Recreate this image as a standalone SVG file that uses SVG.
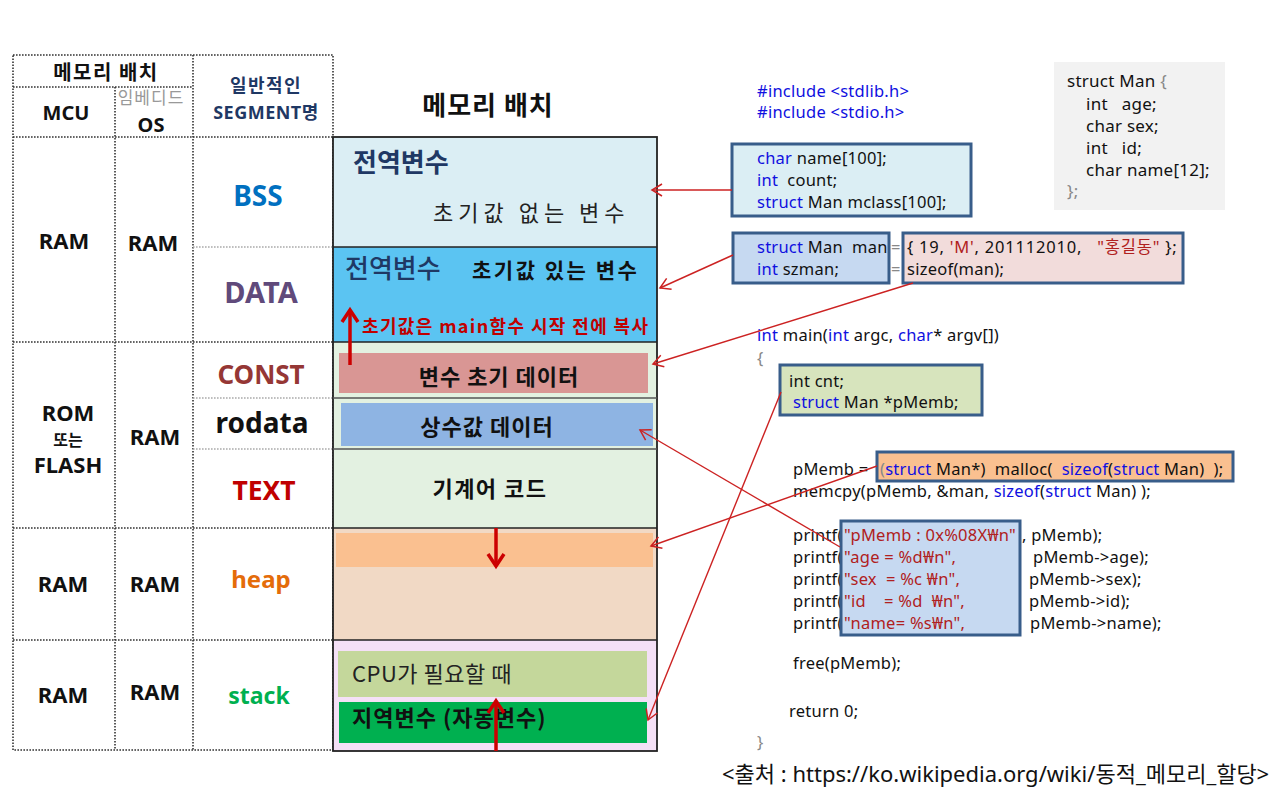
<svg xmlns="http://www.w3.org/2000/svg" width="1280" height="801" viewBox="0 0 1280 801">
<defs>
<style>
text{font-family:'Noto Sans','Noto Sans CJK KR',sans-serif;}
.kr{font-family:'Noto Sans CJK KR','Noto Sans',sans-serif;}
.hd{font-weight:bold;font-size:20px;fill:#111;text-anchor:middle;}
.cell{font-weight:bold;font-size:22px;fill:#111;text-anchor:middle;}
.seg{font-weight:bold;font-size:27px;text-anchor:middle;}
.dot{stroke:#333;stroke-width:1.6;stroke-dasharray:1.6 1.4;fill:none;}
.dotl{stroke:#aaa;stroke-width:1.4;stroke-dasharray:1.6 1.4;fill:none;}
.sep{stroke:#222;stroke-width:1.5;}
.sepg{stroke:#555;stroke-width:1.5;}
.code{font-size:16.5px;fill:#111;letter-spacing:0.25px;white-space:pre;}
.kw{fill:#1010e0;}
.st{fill:#b02020;}
.gy{fill:#888;}
.cbox{stroke:#385D8A;stroke-width:3;}
.conn{stroke:#cc2222;stroke-width:1.4;fill:none;marker-end:url(#ar);}
.big{stroke:#cc0000;stroke-width:3.5;fill:none;marker-end:url(#tk);}
.mt{font-family:'Noto Sans CJK KR','Noto Sans',sans-serif;font-weight:bold;fill:#111;}
</style>
<marker id="ar" markerUnits="userSpaceOnUse" markerWidth="14" markerHeight="14" refX="11" refY="7" orient="auto" viewBox="0 0 14 14">
<path d="M1,1 L11,7 L1,13" fill="none" stroke="#cc2222" stroke-width="1.5"/>
</marker>
<marker id="tk" markerUnits="userSpaceOnUse" markerWidth="20" markerHeight="20" refX="16" refY="10" orient="auto" viewBox="0 0 20 20">
<path d="M4,2 L16,10 L4,18" fill="none" stroke="#cc0000" stroke-width="3.5"/>
</marker>
</defs>
<rect width="1280" height="801" fill="#ffffff"/>

<!-- left table -->
<g id="table">
<rect x="13" y="55" width="320" height="695" class="dot"/>
<line x1="13" y1="87" x2="193" y2="87" class="dot"/>
<line x1="13" y1="137" x2="333" y2="137" class="dot"/>
<line x1="13" y1="342" x2="333" y2="342" class="dot"/>
<line x1="13" y1="528" x2="333" y2="528" class="dot"/>
<line x1="13" y1="640" x2="333" y2="640" class="dot"/>
<line x1="115" y1="87" x2="115" y2="750" class="dot"/>
<line x1="193" y1="55" x2="193" y2="750" class="dot"/>
<line x1="193" y1="247" x2="333" y2="247" class="dotl"/>
<line x1="193" y1="398" x2="333" y2="398" class="dotl"/>
<line x1="193" y1="449" x2="333" y2="449" class="dotl"/>
<text x="106" y="80" class="hd kr" style="letter-spacing:1.5px">메모리 배치</text>
<text x="66" y="120" class="hd" style="font-size:20px">MCU</text>
<text x="151" y="104" class="kr" style="font-size:17px;fill:#999;text-anchor:middle;letter-spacing:1px">임베디드</text>
<text x="151" y="132" class="hd" style="font-size:20px">OS</text>
<text x="266" y="92" class="hd kr" style="fill:#1F3864;font-size:18px;letter-spacing:1.5px">일반적인</text>
<text x="266" y="119" class="hd" style="fill:#1F3864;font-size:18px;letter-spacing:0.5px">SEGMENT명</text>
<text x="64" y="249" class="cell">RAM</text>
<text x="153" y="251" class="cell">RAM</text>
<text x="68" y="421" class="cell">ROM</text>
<text x="68" y="446" class="cell kr" style="font-size:16px">또는</text>
<text x="68" y="473" class="cell">FLASH</text>
<text x="155" y="445" class="cell">RAM</text>
<text x="63" y="592" class="cell">RAM</text>
<text x="155" y="592" class="cell">RAM</text>
<text x="63" y="703" class="cell">RAM</text>
<text x="155" y="700" class="cell">RAM</text>
<text x="258" y="206" class="seg" style="fill:#0070C0;font-size:28px">BSS</text>
<text x="261" y="303" class="seg" style="fill:#604A7B;font-size:29px">DATA</text>
<text x="261" y="384" class="seg" style="fill:#953735;font-size:26px">CONST</text>
<text x="262" y="433" class="seg" style="fill:#111;font-size:28px">rodata</text>
<text x="264" y="500" class="seg" style="fill:#C00000;font-size:26.5px">TEXT</text>
<text x="261" y="588" class="seg" style="fill:#E46C0A;font-size:24px">heap</text>
<text x="259" y="704" class="seg" style="fill:#00B050;font-size:23px">stack</text>
</g>

<!-- memory layout -->
<text x="488" y="115" class="mt" style="font-size:26px;text-anchor:middle;letter-spacing:1px">메모리 배치</text>
<g id="mem-bss">
<rect x="333" y="137" width="324" height="110" fill="#DBEEF4"/>
<text x="353" y="172" class="kr" style="font-size:26px;font-weight:bold;fill:#1F3864">전역변수</text>
<text x="433" y="221" class="kr" style="font-size:22px;fill:#222;letter-spacing:5px">초기값 없는 변수</text>
</g>
<g id="mem-data">
<rect x="333" y="247" width="324" height="95" fill="#5BC4F2"/>
<text x="345" y="278" class="kr" style="font-size:26px;font-weight:500;fill:#1F3864">전역변수</text>
<text x="472" y="278" class="mt" style="font-size:21px;letter-spacing:2.5px">초기값 있는 변수</text>
<text x="362" y="333" class="mt" style="font-size:18px;fill:#C00000" textLength="286" lengthAdjust="spacing">초기값은 main함수 시작 전에 복사</text>
</g>
<g id="mem-const">
<rect x="333" y="342" width="324" height="186" fill="#E3F1E1"/>
<rect x="339" y="353" width="309" height="40" fill="#D99694"/>
<text x="499" y="385" class="mt" style="font-size:22px;text-anchor:middle;letter-spacing:1px">변수 초기 데이터</text>
</g>
<g id="mem-rodata">
<rect x="341" y="403" width="312" height="43" fill="#8EB4E3"/>
<text x="487" y="435" class="mt" style="font-size:22px;text-anchor:middle;letter-spacing:1px">상수값 데이터</text>
</g>
<g id="mem-text">
<text x="490" y="497" class="mt" style="font-size:22px;text-anchor:middle;letter-spacing:1.5px">기계어 코드</text>
</g>
<g id="mem-heap">
<rect x="333" y="528" width="324" height="112" fill="#F1D9C5"/>
<rect x="336" y="533" width="317" height="34" fill="#FAC090"/>
</g>
<g id="mem-stack">
<rect x="333" y="640" width="324" height="111" fill="#F4E0F6"/>
<rect x="338" y="651" width="309" height="46" fill="#C4D79B"/>
<text x="352" y="682" class="kr" style="font-size:22px;fill:#222;letter-spacing:0.5px">CPU가 필요할 때</text>
<rect x="339" y="702" width="308" height="41" fill="#00B050"/>
<text x="352" y="726" class="mt" style="font-size:22px;letter-spacing:1px">지역변수 (자동변수)</text>
</g>
<g id="mem-lines">
<rect x="333" y="137" width="324" height="614" fill="none" stroke="#222" stroke-width="1.8"/>
<line x1="333" y1="247" x2="657" y2="247" class="sep"/>
<line x1="333" y1="342" x2="657" y2="342" class="sep"/>
<line x1="333" y1="398" x2="657" y2="398" class="sepg"/>
<line x1="333" y1="449" x2="657" y2="449" class="sepg"/>
<line x1="333" y1="528" x2="657" y2="528" class="sep"/>
<line x1="333" y1="640" x2="657" y2="640" class="sep"/>
</g>
<g id="growth-arrows">
<line x1="350" y1="365" x2="350" y2="310" class="big"/>
<line x1="496" y1="528" x2="496" y2="566" class="big"/>
<line x1="496" y1="751" x2="496" y2="701" class="big"/>
</g>

<!-- code -->
<g id="includes">
<text x="757" y="97" class="code kw">#include &lt;stdlib.h&gt;</text>
<text x="757" y="118" class="code kw">#include &lt;stdio.h&gt;</text>
</g>
<g id="code-bss">
<rect x="732" y="144" width="239" height="72" fill="#DBEEF4" class="cbox"/>
<text x="757" y="164" class="code"><tspan class="kw">char</tspan> name[100];</text>
<text x="757" y="186" class="code"><tspan class="kw">int</tspan>  count;</text>
<text x="757" y="208" class="code"><tspan class="kw">struct</tspan> Man mclass[100];</text>
</g>
<g id="code-data-decl">
<rect x="733" y="233" width="156" height="50" fill="#C6D9F1" class="cbox"/>
<text x="757" y="253" class="code"><tspan class="kw">struct</tspan> Man  man</text>
<text x="757" y="275" class="code"><tspan class="kw">int</tspan> szman;</text>
</g>
<text x="891" y="253" class="code gy">=</text>
<text x="891" y="275" class="code gy">=</text>
<g id="code-data-init">
<rect x="903" y="233" width="280" height="50" fill="#F2DCDB" class="cbox"/>
<text x="907" y="253" class="code" textLength="270" lengthAdjust="spacing">{ 19, <tspan class="st">'M'</tspan>, 201112010,   <tspan class="st">"홍길동"</tspan> };</text>
<text x="907" y="275" class="code">sizeof(man);</text>
</g>
<g id="struct-def">
<rect x="1054" y="62" width="171" height="148" fill="#F2F2F2"/>
<text x="1067" y="87" class="code" style="font-size:17px">struct Man <tspan class="gy">{</tspan></text>
<text x="1086" y="110" class="code" style="font-size:17px">int   age;</text>
<text x="1086" y="132" class="code" style="font-size:17px">char sex;</text>
<text x="1086" y="154" class="code" style="font-size:17px">int   id;</text>
<text x="1086" y="176" class="code" style="font-size:17px">char name[12];</text>
<text x="1067" y="197" class="code gy" style="font-size:17px">};</text>
</g>
<g id="main-code">
<text x="757" y="341" class="code"><tspan class="kw">int</tspan> main(<tspan class="kw">int</tspan> argc, <tspan class="kw">char</tspan>* argv[])</text>
<text x="757" y="364" class="code gy">{</text>
<text x="793" y="475" class="code">pMemb = </text>
<text x="793" y="497" class="code">memcpy(pMemb, &amp;man, <tspan class="kw">sizeof</tspan>(<tspan class="kw">struct</tspan> Man) );</text>
<text x="793" y="541" class="code">printf(</text>
<text x="793" y="563" class="code">printf(</text>
<text x="793" y="585" class="code">printf(</text>
<text x="793" y="607" class="code">printf(</text>
<text x="793" y="629" class="code">printf(</text>
<text x="1022" y="541" class="code">, pMemb);</text>
<text x="1033" y="563" class="code">pMemb-&gt;age);</text>
<text x="1029" y="585" class="code">pMemb-&gt;sex);</text>
<text x="1029" y="607" class="code">pMemb-&gt;id);</text>
<text x="1030" y="629" class="code">pMemb-&gt;name);</text>
<text x="793" y="669" class="code">free(pMemb);</text>
<text x="789" y="717" class="code">return 0;</text>
<text x="757" y="748" class="code gy">}</text>
</g>
<g id="code-stack">
<rect x="780" y="365" width="202" height="50" fill="#D7E4BD" class="cbox"/>
<text x="789" y="387" class="code">int cnt;</text>
<text x="793" y="408" class="code"><tspan class="kw">struct</tspan> Man *pMemb;</text>
</g>
<g id="code-heap">
<rect x="877" y="452" width="356" height="29" fill="#FAC090" class="cbox"/>
<text x="880" y="475" class="code"><tspan class="gy">(</tspan><tspan class="kw">struct</tspan> Man*)  malloc(  <tspan class="kw">sizeof</tspan>(<tspan class="kw">struct</tspan> Man)  );</text>
</g>
<g id="code-rodata">
<rect x="841" y="521" width="179" height="114" fill="#C6D9F1" class="cbox"/>
<text x="844" y="541" class="code st">"pMemb : 0x%08X₩n"</text>
<text x="844" y="563" class="code st">"age = %d₩n",</text>
<text x="844" y="585" class="code st">"sex  = %c ₩n",</text>
<text x="844" y="607" class="code st">"id    = %d  ₩n",</text>
<text x="844" y="629" class="code st">"name= %s₩n",</text>
</g>

<g id="connectors">
<line x1="732" y1="190" x2="652" y2="190" class="conn"/>
<line x1="733" y1="255" x2="660" y2="288" class="conn"/>
<line x1="913" y1="283" x2="653" y2="364" class="conn"/>
<line x1="840" y1="547" x2="640" y2="430" class="conn"/>
<line x1="877" y1="466" x2="651" y2="546" class="conn"/>
<line x1="781" y1="392" x2="648" y2="720" class="conn"/>
</g>

<text x="722" y="782" style="font-size:22px;fill:#111">&lt;출처 : https://ko.wikipedia.org/wiki/동적_메모리_할당&gt;</text>
</svg>
